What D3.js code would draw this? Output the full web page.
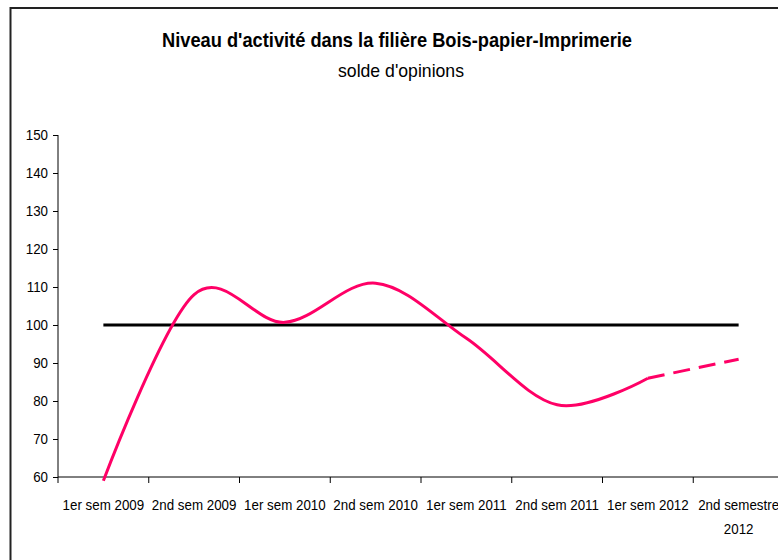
<!DOCTYPE html>
<html>
<head>
<meta charset="utf-8">
<script src="https://cdn.jsdelivr.net/npm/d3@7"></script>
<style>
  body { margin: 0; background: #fff; }
  text { font-family: "Liberation Sans", Arial, sans-serif; fill: #000; }
</style>
</head>
<body>
<div class="container"></div>
<script>
const w = 778;
const h = 560;

// data
const categories = ['1er sem 2009', '2nd sem 2009', '1er sem 2010', '2nd sem 2010',
                    '1er sem 2011', '2nd sem 2011', '1er sem 2012', '2nd semestre 2012'];
const activite = [59, 108, 100.7, 111, 96.5, 79, 86];            // observed, solid
const prevision = [null, null, null, null, null, null, 86, 91];   // forecast, dashed
const reference = [100, 100, 100, 100, 100, 100, 100, 100];
const yTicks = [60, 70, 80, 90, 100, 110, 120, 130, 140, 150];

const svg = d3.select('.container')
              .append('svg')
              .attr('width', w)
              .attr('height', h);

// outer frame (runs off the right and bottom of the picture)
svg.append('rect')
   .attr('x', 10.5).attr('y', 8)
   .attr('width', 800).attr('height', 600)
   .style('fill', 'none')
   .style('stroke', '#222')
   .style('stroke-width', 2);

// titles
svg.append('text')
   .attr('x', 397).attr('y', 47)
   .attr('text-anchor', 'middle')
   .attr('textLength', 470)
   .attr('lengthAdjust', 'spacingAndGlyphs')
   .style('font-size', '21px')
   .style('font-weight', 'bold')
   .text("Niveau d'activité dans la filière Bois-papier-Imprimerie");

svg.append('text')
   .attr('x', 401).attr('y', 77)
   .attr('text-anchor', 'middle')
   .attr('textLength', 126)
   .attr('lengthAdjust', 'spacingAndGlyphs')
   .style('font-size', '19px')
   .text("solde d'opinions");

// scales
const xScale = d3.scaleBand()
                 .domain(categories)
                 .range([58, 58 + 8 * 90.75])
                 .paddingInner(0).paddingOuter(0);
const cx = (i) => xScale(categories[i]) + xScale.bandwidth() / 2;

const yScale = d3.scaleLinear()
                 .domain([60, 150])
                 .range([477, 135]);

// horizontal squeeze, like the narrow font of the original
const squeeze = (sel) => sel.each(function() {
  d3.select(this)
    .attr('textLength', this.getComputedTextLength() * 0.89)
    .attr('lengthAdjust', 'spacingAndGlyphs');
});

// y axis
const yAxis = d3.axisLeft(yScale).tickValues(yTicks).tickSize(5).tickPadding(5);
svg.append('g')
   .attr('transform', 'translate(58,0)')
   .call(yAxis)
   .call(g => g.select('.domain').attr('d', 'M0,135V477'))
   .call(g => g.selectAll('text').style('font-size', '15px').attr('font-family', null).call(squeeze));

// x axis
const xAxis = d3.axisBottom(xScale).tickSize(0).tickPadding(22);
const gx = svg.append('g')
   .attr('transform', 'translate(0,477)')
   .call(xAxis);
gx.select('.domain').attr('d', 'M58,0H800');
gx.selectAll('text')
  .style('font-size', '15px')
  .attr('font-family', null)
  .each(function(d) {
    const t = d3.select(this);
    if (this.getComputedTextLength() * 0.89 > xScale.bandwidth() + 2) {
      // wrap long label on two lines
      const words = d.split(' ');
      const last = words.pop();
      t.text(null).attr('dy', null);
      t.append('tspan').attr('x', 0).attr('dy', '0.71em').text(words.join(' '));
      t.append('tspan').attr('x', 0).attr('dy', '1.65em').text(last);
      t.selectAll('tspan').call(squeeze);
    } else {
      squeeze(t);
    }
  });
// category boundary ticks
gx.selectAll('line.bound')
  .data(categories)
  .enter()
  .append('line')
  .attr('class', 'bound')
  .attr('x1', d => xScale(d)).attr('x2', d => xScale(d))
  .attr('y1', 0).attr('y2', 6)
  .style('stroke', '#000');

// reference line at 100
const straight = d3.line()
                   .defined(d => d[1] !== null)
                   .x(d => cx(d[0]))
                   .y(d => yScale(d[1]));

svg.append('path')
   .datum(reference.map((v, i) => [i, v]))
   .attr('d', straight)
   .style('fill', 'none')
   .style('stroke', '#000')
   .style('stroke-width', 3);

// observed (smoothed)
const smooth = d3.line()
                 .x(d => cx(d[0]))
                 .y(d => yScale(d[1]))
                 .curve(d3.curveCardinal.tension(0));

svg.append('path')
   .datum(activite.map((v, i) => [i, v]))
   .attr('d', smooth)
   .style('fill', 'none')
   .style('stroke', '#ff0066')
   .style('stroke-width', 3);

// forecast (dashed)
svg.append('path')
   .datum(prevision.map((v, i) => [i, v]).filter(d => d[1] !== null))
   .attr('d', straight)
   .style('fill', 'none')
   .style('stroke', '#ff0066')
   .style('stroke-width', 3)
   .style('stroke-dasharray', '17,9');
</script>
</body>
</html>
